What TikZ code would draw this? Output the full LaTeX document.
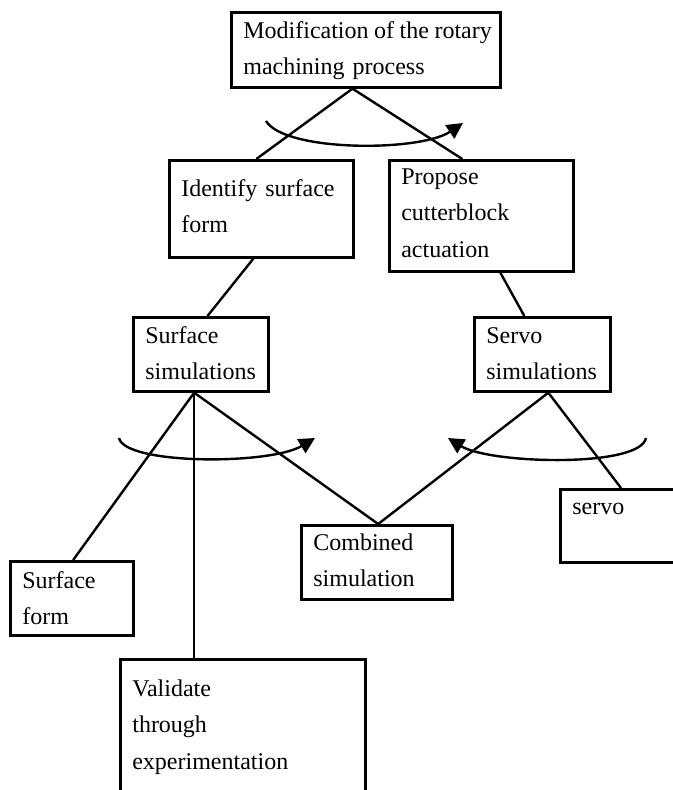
\documentclass[tikz,border=0pt]{standalone}
\usepackage{fontspec}
\setmainfont{Liberation Serif}
\usetikzlibrary{arrows.meta,calc}
\hyphenpenalty=10000

\begin{document}
\begin{tikzpicture}[x=0.75pt, y=-0.75pt,
      font=\fontsize{18}{27.4}\selectfont,
      bx/.style={draw,line width=2pt,anchor=north west,align=left,
                 inner xsep=9pt,inner ysep=0pt,text height=19.5pt},
      ln/.style={line width=1.8pt},
      turn/.style={line width=1.8pt,-{Triangle[length=12pt,width=12pt]}}]
    \useasboundingbox (0,0) rectangle (673,790);

    \node[bx,text width=183.75pt,text depth=36.75pt] (mod) at (230,11)
      {\mbox{\spaceskip=.23em Modification of the rotary}\\machining process};
    \node[bx,text width=120pt,text height=27pt,text depth=45.75pt] (ident) at (168,159)
      {Identify surface\\form};
    \node[bx,text width=120pt,text height=18pt,text depth=65.25pt] (prop) at (388,159)
      {Propose\\cutterblock\\actuation};
    \node[bx,text width=83.25pt,text depth=36pt] (surfsim) at (132,316)
      {Surface\\\mbox{simulations}};
    \node[bx,text width=84pt,text depth=36pt] (servosim) at (473,316)
      {Servo\\\mbox{simulations}};
    \node[bx,text width=95.25pt,text height=18.75pt,text depth=36.75pt] (comb) at (300,524)
      {Combined\\simulation};
    \node[bx,text width=87pt,text height=18.75pt,text depth=36pt] (servo) at (559,488)
      {servo};
    \node[bx,text width=74.25pt,text height=20.25pt,text depth=35.25pt] (sform) at (9,560)
      {Surface\\form};
    \node[bx,text width=165.75pt,text height=27.75pt,text depth=92.25pt] (valid) at (119,658)
      {Validate\\through\\experimentation};

    % tree links
    \draw[ln] ([xshift=-3.75pt]ident.north) -- ([xshift=-10pt]mod.south)
              -- ([xshift=-14.25pt]prop.north);
    \draw[ln] ([xshift=-6pt]ident.south) -- ([xshift=5pt]surfsim.north);
    \draw[ln] ([xshift=14.25pt]prop.south) -- ([xshift=-13.5pt]servosim.north);
    \draw[ln] ([xshift=1pt]sform.north) -- ([xshift=-5pt]surfsim.south)
              -- ([xshift=1pt]comb.north) -- ([xshift=4.5pt]servosim.south)
              -- ([xshift=46.5pt]servo.north west);
    \draw[ln] ([xshift=-5pt]surfsim.south) -- ([xshift=-5pt]surfsim.south |- valid.north);

    % rotation arrows
    \draw[turn] (266,121) .. controls (285,152) and (420,152) .. (463,123);
    \draw[turn] (119,438) .. controls (125,465) and (270,465) .. (315,438);
    \draw[turn] (646,438) .. controls (640,468) and (490,464) .. (448,438);
  \end{tikzpicture}
\end{document}
